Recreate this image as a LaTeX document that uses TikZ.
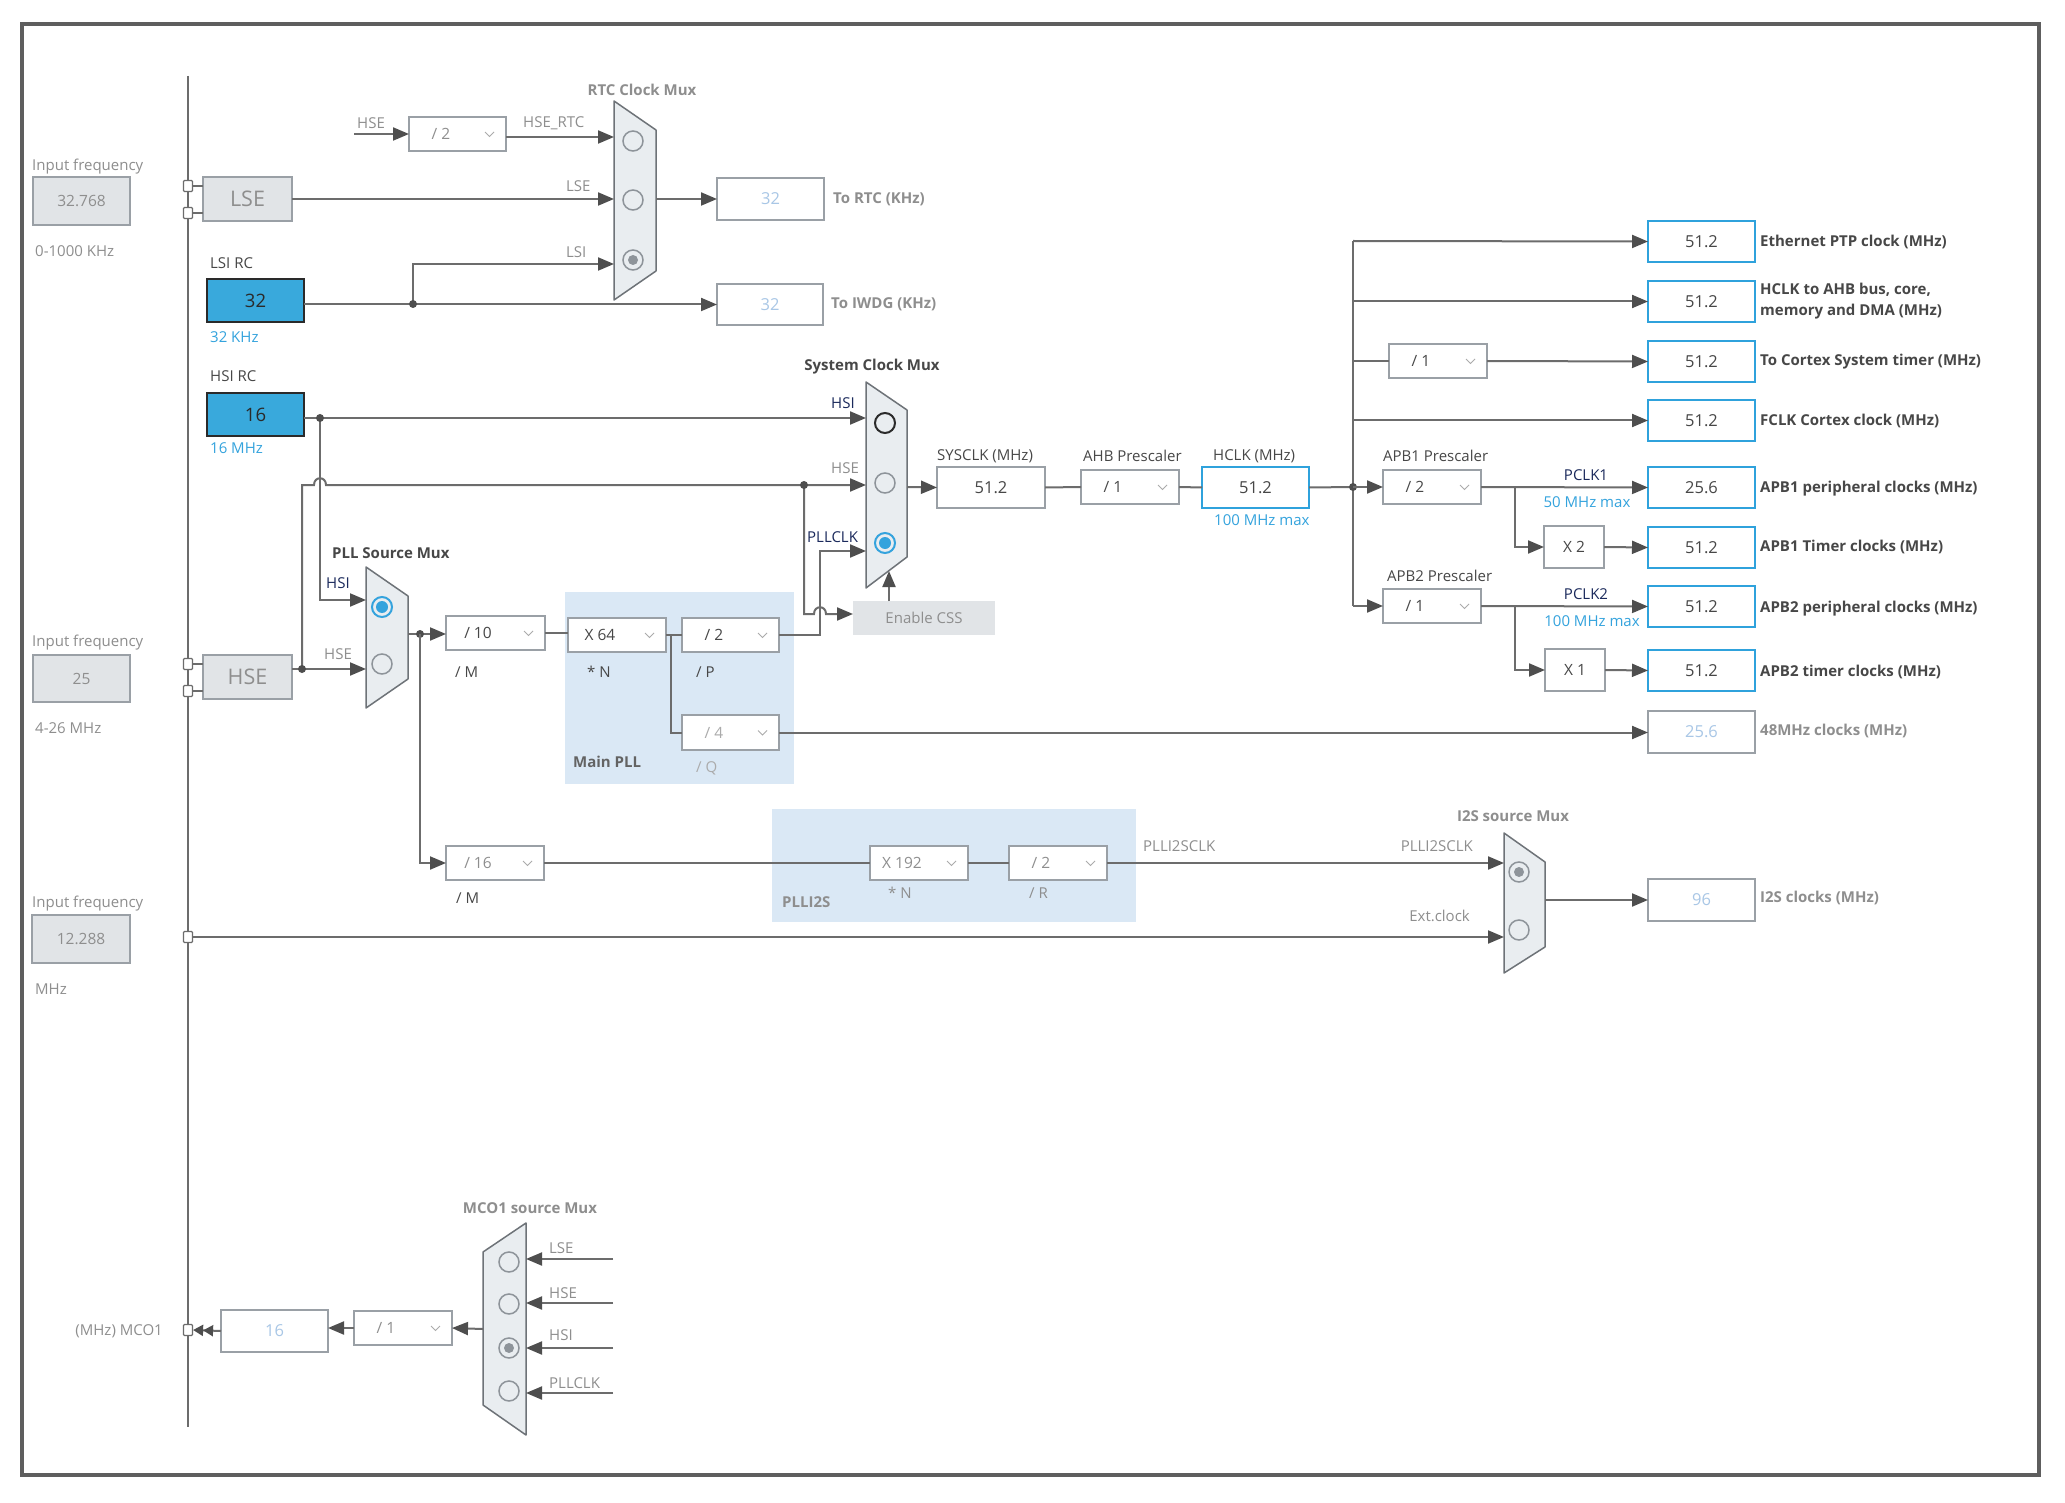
\documentclass[tikz,border=0pt]{standalone}
\usepackage{fontspec}
\setmainfont{Open Sans}
\usetikzlibrary{arrows.meta,calc}
\definecolor{linec}{HTML}{6C6C6C}
\definecolor{arrc}{HTML}{4E4E4E}
\definecolor{framec}{HTML}{5E5E5E}
\definecolor{gfill}{HTML}{E1E4E7}
\definecolor{gbord}{HTML}{9AA0A6}
\definecolor{bfill}{HTML}{39A9DC}
\definecolor{bbord}{HTML}{2FA2DC}
\definecolor{btext}{HTML}{34A3DD}
\definecolor{navy}{HTML}{1B2A5C}
\definecolor{ltb}{HTML}{A9C7E6}
\definecolor{tgray}{HTML}{8E8E8E}
\definecolor{tlight}{HTML}{ABABAB}
\definecolor{tdark}{HTML}{474747}
\definecolor{muxf}{HTML}{E9EDF0}
\definecolor{muxb}{HTML}{6E7378}
\definecolor{pllf}{HTML}{DAE8F5}
\definecolor{radb}{HTML}{8E949A}
\definecolor{blk}{HTML}{2A2A2A}
\newcommand\myfs[1]{\fontsize{#1}{#1}\selectfont}
\newcommand\mybox[7]{\node[#6, anchor=north west, minimum width={(#4-#2)*1pt}, minimum height={(#5-#3)*1pt}, inner sep=0pt, outer sep=0pt] (#1) at (#2,#3) {#7};}
\newcommand\mypresc[7]{\mybox{#1}{#2}{#3}{#4}{#5}{wbox}{}
 \node[font=\myfs{15.5}, text=#7, inner sep=0pt] (#1txt) at ($(#1.west)+(32,0)$) {#6};
 \draw[chev] ($(#1.east)+(-21,-2)$) -- ++(4.5,4.5) -- ++(4.5,-4.5);}
\tikzset{
 wire/.style={draw=linec, line width=2pt},
 wirea/.style={wire, -{Triangle[length=16pt,width=13pt,color=arrc]}},
 jdot/.style={circle, fill=arrc, inner sep=0pt, minimum size=8pt},
 gbox/.style={draw=gbord, fill=gfill, line width=1.2pt, text=tgray, font=\myfs{15.5}},
 wbox/.style={draw=gbord, fill=white, line width=1.2pt},
 obox/.style={draw=bbord, fill=white, line width=2.5pt, text=tdark, font=\myfs{16.5}},
 dbox/.style={draw=gbord, fill=white, line width=1.2pt, text=ltb, font=\myfs{16.5}},
 bluebox/.style={draw=blk, fill=bfill, line width=1.5pt, text=blk, font=\myfs{18.5}},
 sqr/.style={draw=linec, fill=white, line width=1.2pt, minimum width=9pt, minimum height=11pt, inner sep=0pt, rounded corners=1pt},
 mux/.style={draw=muxb, fill=muxf, line width=1.5pt, line join=round},
 rad/.style={circle, draw=radb, line width=1.5pt, minimum size=20pt, inner sep=0pt},
 radg/.style={rad, path picture={\fill[radb] (path picture bounding box.center) circle[radius=5pt];}},
 radbl/.style={circle, draw=btext, line width=2pt, minimum size=20pt, inner sep=0pt, path picture={\fill[btext] (path picture bounding box.center) circle[radius=6pt];}},
 raddk/.style={circle, draw=blk, line width=2pt, minimum size=20pt, inner sep=0pt},
 chev/.style={draw=tlight, line width=1pt},
 lg/.style={font=\myfs{15}, text=tgray, inner sep=0pt},
 ld/.style={font=\myfs{15}, text=tdark, inner sep=0pt},
 lbl/.style={font=\myfs{15}, text=btext, inner sep=0pt},
 lnv/.style={font=\myfs{15}, text=navy, inner sep=0pt},
 bg/.style={font=\bfseries\myfs{15}, text=tgray, inner sep=0pt},
 bd/.style={font=\bfseries\myfs{15}, text=tdark, inner sep=0pt},
}
\begin{document}
\begin{tikzpicture}[x=1pt,y=-1pt]
\useasboundingbox (0,0) rectangle (2065,1503);
\fill[white] (0,0) rectangle (2065,1503);
\draw[draw=framec, line width=4pt] (22,24) rectangle (2039,1475);
% left bus
\draw[draw=linec, line width=1.6pt] (188,76) -- (188,1427);
% panels
\mybox{mainpll}{565}{592}{794}{784}{fill=pllf}{}
\mybox{plli2s}{772}{809}{1136}{922}{fill=pllf}{}
\node[bd, text=tdark!85, anchor=west] (mainpllt) at (573,762) {Main PLL};
\node[bg, anchor=west] (plli2st) at (782,902) {PLLI2S};

% ---------- inputs ----------
\node[lg, anchor=west] (if1) at (32,167) {Input frequency};
\mybox{lsein}{33}{177}{130}{225}{gbox}{32.768}
\node[lg, anchor=west] (if1r) at (35,251) {0-1000 KHz};
\mybox{lse}{203}{177}{292}{221}{gbox, font=\myfs{21.5}}{LSE}
\node[sqr] (sq1) at (188,186) {};
\node[sqr] (sq2) at (188,213) {};
\draw[wire, line width=1.2pt] (sq1.east) -- (sq1.east -| lse.west);
\draw[wire, line width=1.2pt] (sq2.east) -- (sq2.east -| lse.west);

\node[ld, anchor=west] (lsil) at (210,263) {LSI RC};
\mybox{lsi}{207}{279}{304}{322}{bluebox}{32}
\node[lbl, anchor=west] (lsif) at (210,337) {32 KHz};
\node[ld, anchor=west] (hsil) at (210,376) {HSI RC};
\mybox{hsi}{207}{393}{304}{436}{bluebox}{16}
\node[lbl, anchor=west] (hsif) at (210,448) {16 MHz};

\node[lg, anchor=west] (if2) at (32,643) {Input frequency};
\mybox{hsein}{33}{655}{130}{702}{gbox}{25}
\node[lg, anchor=west] (if2r) at (35,728) {4-26 MHz};
\mybox{hse}{203}{655}{292}{699}{gbox, font=\myfs{21.5}}{HSE}
\node[sqr] (sq3) at (188,664) {};
\node[sqr] (sq4) at (188,691) {};
\draw[wire, line width=1.2pt] (sq3.east) -- (sq3.east -| hse.west);
\draw[wire, line width=1.2pt] (sq4.east) -- (sq4.east -| hse.west);

\node[lg, anchor=west] (if3) at (32,904) {Input frequency};
\mybox{extin}{32}{915}{130}{963}{gbox}{12.288}
\node[lg, anchor=west] (if3r) at (35,989) {MHz};
\node[sqr] (sq5) at (188,937) {};

% ---------- RTC mux ----------
\draw[mux] (614,101) -- (656,130) -- (656,271) -- (614,300) -- cycle;
\node[bg] (rtct) at (642,90) {RTC Clock Mux};
\node[rad] (r1) at (633,141) {};
\node[rad] (r2) at (633,200) {};
\node[radg] (r3) at (633,260) {};
\coordinate (rtcA) at (614,137);
\coordinate (rtcB) at (614,199);
\coordinate (rtcC) at (614,264);
\coordinate (rtcO) at (656,199);
\node[lg, anchor=west] (hsel) at (357,123) {HSE};
\coordinate (hses) at (354,134);
\mypresc{d2}{409}{117}{506}{151}{/ 2}{tgray}
\draw[wirea] (hses) -- (d2.west);
\draw[wirea] (d2.east |- rtcA) -- (rtcA);
\node[lg, anchor=west] (hsertc) at (523,123) {HSE\_RTC};
\draw[wirea] (lse.east |- rtcB) -- (rtcB);
\node[lg, anchor=west] (lsel) at (566,186) {LSE};
\mybox{rtc}{717}{178}{824}{220}{dbox}{32}
\mybox{iwdg}{717}{284}{823}{325}{dbox}{32}
\coordinate (lsij) at (413,304);
\draw[wirea] (lsi.east |- iwdg.west) -- (iwdg.west);
\draw[wirea] (lsij) |- (rtcC);
\node[jdot] (lsid) at (lsij) {};
\node[lg, anchor=west] (lsil2) at (566,252) {LSI};
\draw[wirea] (rtcO) -- (rtc.west);
\node[bg, anchor=west] (rtcl) at (833,199) {To RTC (KHz)};
\node[bg, anchor=west] (iwdgl) at (831,304) {To IWDG (KHz)};

% ---------- System clock mux ----------
\draw[mux] (866,382) -- (907,410) -- (907,557) -- (866,588) -- cycle;
\node[bd] (syst) at (872,367) {System Clock Mux};
\node[raddk] (s1) at (885,423) {};
\node[rad] (s2) at (885,483) {};
\node[radbl] (s3) at (885,543) {};
\coordinate (sysA) at (866,418);
\coordinate (sysB) at (866,485);
\coordinate (sysC) at (866,551);
\coordinate (sysO) at (907,487);
\coordinate (hsij) at (320,418);
\draw[wirea] (hsi.east |- sysA) -- (sysA);
\node[lnv, anchor=west] (hsisl) at (831,403) {HSI};
\coordinate (hsej) at (302,669);
\coordinate (hsek) at (804,485);
\coordinate (cssin) at (853,614);
\draw[wirea] (hsej) -- (302,485) -- (314,485) .. controls (314,476) and (326,476) .. (326,485) -- (sysB);
\draw[wirea] (hsek) -- (804,614) -- (814,614) .. controls (814,605) and (826,605) .. (826,614) -- (cssin);
\node[jdot] (hsekd) at (hsek) {};
\node[lg, anchor=west] (hsesl) at (831,468) {HSE};
\coordinate (pllk) at (820,551);
\node[lnv, anchor=west] (pllkl) at (807,537) {PLLCLK};
\mybox{css}{853}{601}{995}{635}{fill=gfill, text=tgray, font=\myfs{15}}{Enable CSS}
\coordinate (cssup) at (889,601);
\coordinate (muxbot) at (889,571);
\draw[wirea] (cssup) -- (muxbot);

\mybox{sysclk}{937}{467}{1045}{508}{wbox, text=tdark, font=\myfs{16.5}}{51.2}
\draw[wirea] (sysO) -- (sysclk.west);
\node[ld, anchor=west] (sysclkl) at (937,456) {SYSCLK (MHz)};
\mypresc{ahb}{1081}{470}{1179}{504}{/ 1}{tdark}
\draw[wire] (sysclk.east) -- (ahb.west);
\node[ld, anchor=west] (ahbl) at (1083,456) {AHB Prescaler};
\mybox{hclk}{1202}{467}{1309}{508}{obox}{51.2}
\draw[wire] (ahb.east) -- (hclk.west);
\node[ld, anchor=west] (hclkl) at (1213,456) {HCLK (MHz)};
\node[lbl, anchor=west] (hclkm) at (1214,520) {100 MHz max};

% ---------- right side ----------
\mybox{oeth}{1648}{221}{1755}{262}{obox}{51.2}
\mybox{oahb}{1648}{281}{1755}{322}{obox}{51.2}
\mybox{ocst}{1648}{341}{1755}{382}{obox}{51.2}
\mybox{ofclk}{1648}{400}{1755}{441}{obox}{51.2}
\mybox{oapbap}{1648}{467}{1755}{508}{obox}{25.6}
\mybox{oapbat}{1648}{527}{1755}{568}{obox}{51.2}
\mybox{oapbbp}{1648}{586}{1755}{627}{obox}{51.2}
\mybox{oapbbt}{1648}{650}{1755}{691}{obox}{51.2}
\mybox{o48}{1648}{711}{1755}{753}{dbox}{25.6}
\mybox{oi2s}{1648}{879}{1755}{921}{dbox}{96}

\coordinate (busj) at (1353,487);
\coordinate (bustop) at (1353,241);
\coordinate (busbot) at (1353,606);
\draw[wire] (hclk.east) -- (busj);
\draw[wire] (bustop) -- (busbot);
\node[jdot] (busd) at (busj) {};
\draw[wirea] (bustop) -- (oeth.west);
\draw[wirea] (bustop |- oahb.west) -- (oahb.west);
\mypresc{cstp}{1389}{344}{1487}{378}{/ 1}{tdark}
\draw[wire] (bustop |- cstp.west) -- (cstp.west);
\draw[wirea] (cstp.east) -- (ocst.west);
\draw[wirea] (bustop |- ofclk.west) -- (ofclk.west);

\mypresc{pra}{1383}{470}{1481}{504}{/ 2}{tdark}
\draw[wirea] (busj) -- (pra.west);
\node[ld, anchor=west] (pral) at (1383,456) {APB1 Prescaler};
\draw[wirea] (pra.east) -- (oapbap.west);
\node[lnv] (pclk1) at (1586,475) {PCLK1};
\node[lbl] (pclk1m) at (1587,502) {50 MHz max};
\mybox{mulx2}{1544}{526}{1604}{568}{wbox, text=tdark, font=\myfs{15.5}}{X 2}
\coordinate (br1) at (1515,487);
\draw[wirea] (br1) |- (mulx2.west);
\draw[wirea] (mulx2.east) -- (oapbat.west);

\mypresc{prb}{1383}{589}{1481}{623}{/ 1}{tdark}
\draw[wirea] (busbot) -- (prb.west);
\node[ld, anchor=west] (prbl) at (1387,576) {APB2 Prescaler};
\draw[wirea] (prb.east) -- (oapbbp.west);
\node[lnv] (pclk2) at (1586,594) {PCLK2};
\node[lbl] (pclk2m) at (1592,621) {100 MHz max};
\mybox{mulx1}{1545}{649}{1605}{691}{wbox, text=tdark, font=\myfs{15.5}}{X 1}
\coordinate (br2) at (1515,606);
\draw[wirea] (br2) |- (mulx1.west);
\draw[wirea] (mulx1.east) -- (oapbbt.west);

\node[bd, anchor=west] (ethl) at (1760,242) {Ethernet PTP clock (MHz)};
\node[bd, anchor=west] (ahbl1) at (1760,290) {HCLK to AHB bus, core,};
\node[bd, anchor=west] (ahbl2) at (1760,312) {memory and DMA (MHz)};
\node[bd, anchor=west] (cstl) at (1760,362) {To Cortex System timer (MHz)};
\node[bd, anchor=west] (fclkl) at (1760,421) {FCLK Cortex clock (MHz)};
\node[bd, anchor=west] (apb1pl) at (1760,489) {APB1 peripheral clocks (MHz)};
\node[bd, anchor=west] (apb1tl) at (1760,547) {APB1 Timer clocks (MHz)};
\node[bd, anchor=west] (apb2pl) at (1760,609) {APB2 peripheral clocks (MHz)};
\node[bd, anchor=west] (apb2tl) at (1760,672) {APB2 timer clocks (MHz)};
\node[bg, anchor=west] (o48l) at (1760,731) {48MHz clocks (MHz)};
\node[bg, anchor=west] (i2sl) at (1760,898) {I2S clocks (MHz)};

% ---------- PLL source mux ----------
\draw[mux] (366,567) -- (408,596) -- (408,679) -- (366,708) -- cycle;
\node[bd, anchor=west] (pllt) at (332,553) {PLL Source Mux};
\node[radbl] (p1) at (382,607) {};
\node[rad] (p2) at (382,664) {};
\coordinate (pllA) at (366,600);
\coordinate (pllB) at (366,669);
\coordinate (pllO) at (408,634);
\coordinate (pllj) at (420,634);
\draw[wirea] (hsij) |- (pllA);
\node[jdot] (hsid) at (hsij) {};
\node[lnv, anchor=west] (pllhsi) at (326,583) {HSI};
\draw[wirea] (hse.east |- pllB) -- (pllB);
\node[jdot] (hsed) at (hsej) {};
\node[lg, anchor=west] (pllhse) at (324,654) {HSE};

\mypresc{dM}{446}{616}{545}{650}{/ 10}{tdark}
\mypresc{dN}{568}{618}{666}{652}{X 64}{tdark}
\mypresc{dP}{682}{618}{779}{652}{/ 2}{tdark}
\mypresc{dQ}{682}{715}{779}{750}{/ 4}{tlight}
\draw[wire] (pllO) -- (pllj);
\draw[wirea] (pllj) -- (pllj -| dM.west);
\node[jdot] (plld) at (pllj) {};
\draw[wire] (dM.east) -- (dM.east -| dN.west);
\draw[wire] (dN.east) -- (dP.west);
\coordinate (qbr) at (671,635);
\draw[wire] (qbr) |- (dQ.west);
\draw[wirea] (dP.east) -| (pllk) -- (sysC);
\draw[wirea] (dQ.east) -- (dQ.east -| o48.west);
\node[ld, anchor=west] (mlab) at (455,672) {/ M};
\node[ld, anchor=west] (nlab) at (587,672) {* N};
\node[ld, anchor=west] (plab) at (696,672) {/ P};
\node[lg, text=tlight, anchor=west] (qlab) at (696,768) {/ Q};

% ---------- PLLI2S ----------
\mypresc{d16}{446}{846}{544}{880}{/ 16}{tgray}
\draw[wirea] (pllj) |- (d16.west);
\node[ld, anchor=west] (m2lab) at (456,898) {/ M};
\mypresc{dN2}{870}{846}{968}{880}{X 192}{tgray}
\mypresc{dR}{1009}{846}{1107}{880}{/ 2}{tgray}
\draw[wire] (d16.east) -- (dN2.west);
\draw[wire] (dN2.east) -- (dR.west);
\node[lg, anchor=west] (n2lab) at (888,893) {* N};
\node[lg, anchor=west] (rlab) at (1029,893) {/ R};
\node[lg, anchor=west] (pi2sl1) at (1143,846) {PLLI2SCLK};
\node[lg, anchor=east] (pi2sl2) at (1473,846) {PLLI2SCLK};

% ---------- I2S mux ----------
\draw[mux] (1504,833) -- (1545,862) -- (1545,947) -- (1504,973) -- cycle;
\node[bg] (i2st) at (1513,816) {I2S source Mux};
\node[radg] (i1) at (1519,872) {};
\node[rad] (i2) at (1519,930) {};
\coordinate (i2sA) at (1504,863);
\coordinate (i2sB) at (1504,937);
\coordinate (i2sO) at (1545,900);
\draw[wirea] (dR.east) -- (i2sA);
\draw[wirea] (sq5.east) -- (i2sB);
\node[lg, anchor=east] (extl) at (1470,916) {Ext.clock};
\draw[wirea] (i2sO) -- (oi2s.west);

% ---------- MCO1 ----------
\draw[mux] (526,1223) -- (526,1435) -- (483,1405) -- (483,1252) -- cycle;
\node[bg] (mcot) at (530,1208) {MCO1 source Mux};
\node[rad] (m1) at (509,1262) {};
\node[rad] (m2) at (509,1304) {};
\node[radg] (m3) at (509,1348) {};
\node[rad] (m4) at (509,1391) {};
\foreach \yy/\nm/\tx/\ly in {1259/ma/LSE/1248, 1303/mb/HSE/1293, 1348/mc/HSI/1335, 1393/md/PLLCLK/1383}{
  \coordinate (\nm s) at (613,\yy);
  \coordinate (\nm e) at (526,\yy);
  \draw[wirea] (\nm s) -- (\nm e);
  \node[lg, anchor=west] (\nm l) at (549,\ly) {\tx};
}
\coordinate (mcoO) at (483,1329);
\mypresc{d1m}{354}{1311}{452}{1345}{/ 1}{tgray}
\mybox{mco}{221}{1310}{328}{1352}{dbox}{16}
\draw[wirea] (mcoO) -- (d1m.east);
\draw[wirea] (d1m.west) -- (d1m.west -| mco.east);
\node[sqr] (sq6) at (188,1330) {};
\draw[wire, -{Triangle[length=10pt,width=11pt,color=arrc] Triangle[length=10pt,width=11pt,color=arrc]}] (mco.west) -- (sq6.east);
\node[lg, anchor=east] (mcol) at (163,1331) {(MHz) MCO1};
\end{tikzpicture}
\end{document}
